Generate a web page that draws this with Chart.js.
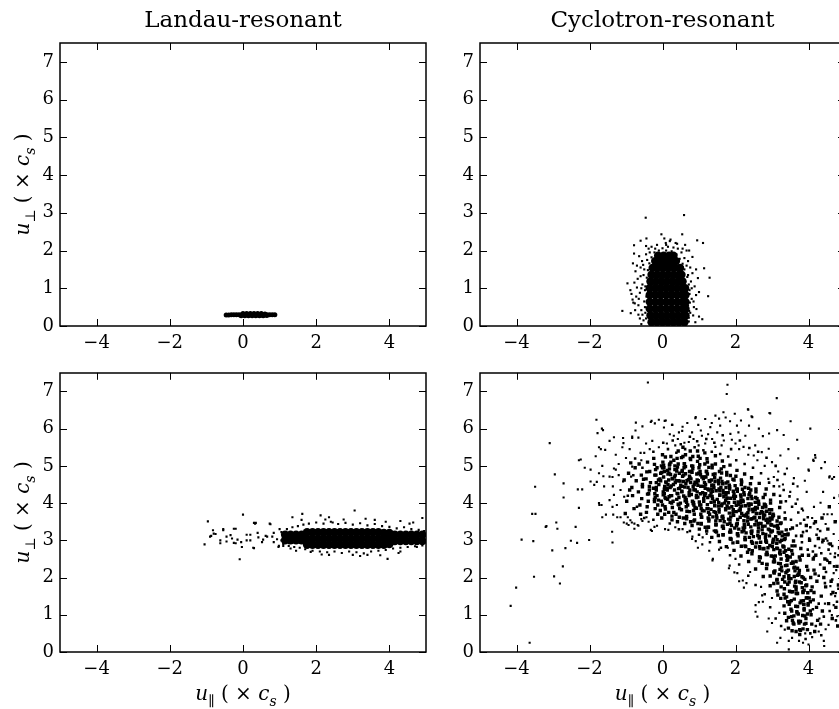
<!DOCTYPE html>
<html>
<head>
<meta charset="utf-8">
<script src="https://cdn.jsdelivr.net/npm/chart.js@4.4.1/dist/chart.umd.min.js"></script>
<style>
html,body{margin:0;padding:0;background:#fff;width:839px;height:709px;overflow:hidden;position:relative;}
canvas{position:absolute;}
</style>
</head>
<body>
<canvas id="c1" width="440" height="356" style="left:0;top:0"></canvas>
<canvas id="c2" width="420" height="356" style="left:440px;top:0"></canvas>
<canvas id="c3" width="440" height="353" style="left:0;top:356px"></canvas>
<canvas id="c4" width="420" height="353" style="left:440px;top:356px"></canvas>
<script>
// ---------------- data ----------------
const titles = ["Landau-resonant", "Cyclotron-resonant"];
const xTicks = [-4, -2, 0, 2, 4];
const yTicks = [0, 1, 2, 3, 4, 5, 6, 7];
const xRange = [-5, 5];
const yRange = [0, 7.5];

// Landau-resonant, top row: very narrow cloud near u_perp = 0.3
const landauTopCore = [[-0.46,0.29],[-0.39,0.29],[-0.32,0.3],[-0.25,0.3],[-0.18,0.3],[-0.11,0.3],[-0.04,0.3],[0.03,0.3],[0.1,0.3],[0.17,0.3],[0.24,0.3],[0.31,0.3],[0.38,0.3],[0.45,0.3],[0.52,0.3],[0.59,0.3],[0.66,0.3],[0.73,0.3],[0.8,0.3],[0.87,0.3],[-0.05,0.27],[0.05,0.27],[0.15,0.27],[0.25,0.27],[0.35,0.27],[0.45,0.27],[0.55,0.27],[0.65,0.28],[0.0,0.33],[0.1,0.33],[0.2,0.33],[0.3,0.33],[0.4,0.33],[0.5,0.33],[0.6,0.32]];

// Cyclotron-resonant, top row: dense core
const cycTopCore = [
[-0.3,0.1],[-0.15,0.1],[0.0,0.1],[0.15,0.1],[0.3,0.1],[0.45,0.1],[0.6,0.1],
[-0.33,0.28],[-0.18,0.28],[-0.03,0.28],[0.12,0.28],[0.27,0.28],[0.42,0.28],[0.57,0.28],[0.63,0.28],
[-0.35,0.46],[-0.2,0.46],[-0.05,0.46],[0.1,0.46],[0.25,0.46],[0.4,0.46],[0.55,0.46],[0.63,0.46],
[-0.35,0.64],[-0.2,0.64],[-0.05,0.64],[0.1,0.64],[0.25,0.64],[0.4,0.64],[0.55,0.64],[0.63,0.64],
[-0.35,0.82],[-0.2,0.82],[-0.05,0.82],[0.1,0.82],[0.25,0.82],[0.4,0.82],[0.55,0.82],[0.63,0.82],
[-0.35,1.0],[-0.2,1.0],[-0.05,1.0],[0.1,1.0],[0.25,1.0],[0.4,1.0],[0.55,1.0],[0.62,1.0],
[-0.33,1.18],[-0.18,1.18],[-0.03,1.18],[0.12,1.18],[0.27,1.18],[0.42,1.18],[0.55,1.18],
[-0.3,1.36],[-0.15,1.36],[0.0,1.36],[0.15,1.36],[0.3,1.36],[0.45,1.36],[0.52,1.36],
[-0.27,1.54],[-0.12,1.54],[0.03,1.54],[0.18,1.54],[0.33,1.54],[0.48,1.54],
[-0.2,1.72],[-0.05,1.72],[0.1,1.72],[0.25,1.72],[0.37,1.72],
[-0.12,1.86],[0.03,1.86],[0.18,1.86],[0.3,1.86]];
const cycTopScatter = [
[-0.46,2.87],[0.59,2.94],[-0.03,2.43],[0.54,2.43],[-0.44,2.32],[0.95,2.27],[1.11,2.2],[-0.78,2.14],[-0.6,2.26],[0.22,2.29],[0.09,2.2],[0.36,2.2],[0.73,2.0],[0.82,1.83],[1.14,1.53],[1.29,1.28],[1.25,0.79],[1.09,0.18],[-1.1,0.4],[-0.87,0.34],[-0.96,1.13],[-0.78,1.92],[-0.81,1.66],[-0.7,1.6],[-0.74,1.45],[-0.88,0.95],[-0.82,0.7],[-0.76,0.6],[-0.66,0.3],[0.92,1.5],[0.97,1.27],[1.0,0.9],[0.93,0.45],[1.0,0.25],[0.9,0.1],
[-0.52,0.15],[-0.58,0.42],[-0.5,0.65],[-0.62,0.88],[-0.55,1.1],[-0.6,1.32],[-0.5,1.5],[-0.56,1.72],[-0.45,1.9],[-0.38,2.05],[-0.66,0.55],[-0.7,1.02],[-0.68,1.25],[-0.72,0.78],[-0.48,0.95],[-0.53,1.62],[-0.64,1.85],[-0.45,2.12],[-0.3,2.1],[-0.2,2.05],[-0.58,0.05],[-0.47,0.35],[-0.75,0.42],[-0.8,0.62],[-0.77,1.15],[-0.85,0.85],
[0.72,0.12],[0.76,0.35],[0.7,0.55],[0.8,0.72],[0.74,0.95],[0.78,1.18],[0.7,1.35],[0.66,1.6],[0.6,1.8],[0.52,1.95],[0.42,2.05],[0.3,2.08],[0.15,2.1],[0.0,2.06],[0.86,0.5],[0.84,0.28],[0.88,1.05],[0.82,1.4],[0.76,1.55],[0.66,2.0],[0.62,2.15],[0.2,2.25],[0.05,2.32],[0.4,2.18],[0.92,0.82],
[-0.45,0.2],[-0.48,0.5],[-0.44,0.78],[-0.47,1.05],[-0.43,1.28],[-0.4,1.48],[-0.36,1.66],[-0.3,1.82],[-0.22,1.95],[-0.1,2.0],[0.1,2.0],[0.25,1.98],[0.38,1.9],[0.47,1.78],[0.55,1.65],[0.6,1.5],[0.68,1.3],[0.72,1.1],[0.74,0.85],[0.75,0.62],[0.73,0.4],[0.72,0.22],[-0.62,0.2],[-0.65,0.72],[-0.58,1.0],[-0.52,1.35],[-0.42,1.75],[-0.35,1.95],[0.85,0.65],[0.8,1.0],[0.7,1.72],[0.55,2.05],[-0.15,2.15],[0.1,2.15],[-0.55,0.3],[-0.6,1.55]];

// Landau-resonant, bottom row: dense band near u_perp = 3
const landauBotCore = [
[1.15,3.0],[1.3,3.0],[1.45,3.0],[1.6,3.0],[1.15,3.15],[1.3,3.15],[1.45,3.15],[1.6,3.15],
[1.75,2.88],[1.9,2.88],[2.05,2.88],[2.2,2.88],[2.35,2.88],[2.5,2.88],[2.65,2.88],[2.8,2.88],[2.95,2.88],[3.1,2.88],[3.25,2.88],[3.4,2.88],[3.55,2.88],[3.7,2.88],[3.85,2.88],[4.0,2.9],
[1.75,3.05],[1.9,3.05],[2.05,3.05],[2.2,3.05],[2.35,3.05],[2.5,3.05],[2.65,3.05],[2.8,3.05],[2.95,3.05],[3.1,3.05],[3.25,3.05],[3.4,3.05],[3.55,3.05],[3.7,3.05],[3.85,3.05],[4.0,3.05],
[1.75,3.22],[1.9,3.22],[2.05,3.22],[2.2,3.22],[2.35,3.22],[2.5,3.22],[2.65,3.22],[2.8,3.22],[2.95,3.22],[3.1,3.22],[3.25,3.22],[3.4,3.22],[3.55,3.22],[3.7,3.22],[3.85,3.2],[4.0,3.2],
[4.15,2.98],[4.3,2.98],[4.45,2.98],[4.6,2.98],[4.75,2.98],[4.9,2.98],[4.15,3.15],[4.3,3.15],[4.45,3.15],[4.6,3.15],[4.75,3.15],[4.9,3.15]];
const landauBotScatter = [
[-0.96,3.51],[-1.05,2.89],[-0.87,3.12],[-0.8,3.18],[-0.62,2.92],[-0.54,3.3],[-0.34,3.14],[-0.2,3.31],[-0.25,2.93],[-0.09,2.49],[0.0,3.69],[0.3,3.47],[0.35,3.47],[0.3,2.79],[0.4,3.2],[0.73,3.45],[0.84,2.95],[0.98,2.85],[0.1,3.0],[0.2,3.15],[-0.15,3.02],[-0.45,2.97],[-0.05,2.95],[0.55,3.02],[0.62,3.12],[0.8,3.1],[1.05,3.0],[1.1,2.85],[1.0,3.3],
[-0.82,3.27],[-0.75,3.17],[-0.54,3.27],[-0.45,3.1],[-0.25,3.31],[-0.3,3.05],[-0.2,2.92],[0.1,3.15],[0.2,3.0],[0.33,3.45],[0.42,3.08],[0.52,2.95],[0.66,3.1],[0.75,3.43],[0.84,3.2],[0.93,3.03],[0.97,2.82],[0.28,2.8],[-0.03,2.82],[-0.62,3.0],[-0.9,3.1],
[1.35,3.62],[1.62,3.71],[2.12,3.67],[2.35,3.62],[3.05,3.8],[2.45,3.48],[2.35,2.61],[3.0,2.61],[3.95,2.5],[3.4,2.61],[1.85,2.69],[4.3,2.7],[4.75,2.82],[1.3,2.78],[3.6,3.55],[4.3,3.52],[4.65,3.48],[4.9,3.6],
[1.05,3.22],[1.1,2.9],[1.2,3.3],[1.25,2.85],[1.35,3.35],[1.4,2.82],[1.5,3.38],[1.55,2.8],[1.65,3.42],[1.7,2.76],[1.8,3.45],[1.9,2.72],[2.0,3.48],[2.1,2.7],[2.2,3.45],[2.3,2.68],[2.4,3.5],[2.5,2.7],[2.6,3.44],[2.7,2.66],[2.8,3.47],[2.9,2.7],[3.0,3.42],[3.1,2.68],[3.2,3.46],[3.3,2.65],[3.4,3.4],[3.5,2.7],[3.6,3.44],[3.7,2.72],[3.8,3.38],[3.9,2.74],[4.0,3.36],[4.1,2.78],[4.2,3.32],[4.3,2.8],[4.4,3.35],[4.5,2.82],[4.6,3.3],[4.7,2.84],[4.8,3.28],[4.9,2.86],[4.95,3.25],[1.6,3.55],[2.25,3.56],[2.75,3.56],[3.35,3.58],[3.9,3.5],[4.55,3.45],[1.45,2.72],[2.15,2.62],[3.2,2.58],[3.75,2.6],[4.25,2.66]];

// Cyclotron-resonant, bottom row: broad arc, points read column by column
const cycBotBand = [
[-1.05,4.62],[-0.98,4.05],[-0.93,4.8],[-1.02,3.72],[-0.9,4.35],
[-0.84,4.42],[-0.78,3.85],[-0.75,4.95],[-0.82,4.2],[-0.72,4.6],[-0.87,5.08],
[-0.66,4.3],[-0.58,4.75],[-0.62,3.95],[-0.55,4.5],[-0.64,5.05],[-0.57,4.12],[-0.6,3.7],
[-0.45,4.65],[-0.38,4.25],[-0.42,3.9],[-0.35,4.85],[-0.41,5.1],[-0.36,4.45],[-0.44,3.75],[-0.39,4.05],
[-0.25,4.4],[-0.18,4.75],[-0.22,4.1],[-0.15,4.95],[-0.2,3.85],[-0.24,5.2],[-0.17,4.55],[-0.21,4.25],[-0.13,3.7],[-0.19,4.9],
[-0.05,4.6],[0.02,4.3],[0.05,4.85],[-0.03,4.05],[0.01,5.1],[0.06,4.45],[-0.06,3.8],[0.03,4.7],[0.0,5.3],[0.07,4.15],[-0.02,3.6],[0.04,4.95],
[0.15,4.5],[0.22,4.2],[0.18,4.8],[0.25,4.0],[0.2,5.05],[0.13,4.35],[0.27,4.65],[0.17,3.75],[0.23,5.25],[0.19,4.92],[0.26,3.55],[0.14,4.1],[0.21,4.42],
[0.35,4.55],[0.42,4.25],[0.38,4.9],[0.45,3.95],[0.4,5.2],[0.33,4.7],[0.47,4.4],[0.37,3.7],[0.43,5.4],[0.39,4.1],[0.46,4.8],[0.34,5.0],[0.41,3.5],[0.44,4.6],
[0.55,4.45],[0.62,4.15],[0.58,4.75],[0.65,3.9],[0.6,5.05],[0.53,4.3],[0.67,4.6],[0.57,3.6],[0.63,5.3],[0.59,4.95],[0.66,4.02],[0.54,4.85],[0.61,3.45],[0.64,4.52],[0.56,5.5],
[0.75,4.35],[0.82,4.05],[0.78,4.65],[0.85,3.8],[0.8,5.0],[0.73,4.2],[0.87,4.5],[0.77,3.5],[0.83,5.25],[0.79,4.85],[0.86,3.95],[0.74,4.72],[0.81,3.4],[0.84,4.45],[0.76,5.4],
[0.95,4.3],[1.02,3.95],[0.98,4.6],[1.05,3.7],[1.0,4.95],[0.93,4.15],[1.07,4.45],[0.97,3.45],[1.03,5.2],[0.99,4.8],[1.06,3.85],[0.94,4.55],[1.01,3.3],[1.04,4.25],[0.96,5.4],[1.08,4.7],
[1.15,4.2],[1.22,3.85],[1.18,4.5],[1.25,3.6],[1.2,4.85],[1.13,4.05],[1.27,4.35],[1.17,3.35],[1.23,5.1],[1.19,4.7],[1.26,3.75],[1.14,4.45],[1.21,3.25],[1.24,4.15],[1.16,5.35],[1.28,4.6],
[1.37,4.12],[1.41,3.77],[1.34,4.38],[1.46,3.52],[1.39,4.77],[1.43,3.93],[1.33,4.27],[1.48,3.22],[1.36,5.02],[1.44,4.58],[1.38,3.63],[1.47,4.33],[1.35,3.08],[1.42,4.03],[1.45,5.27],[1.4,4.48],
[1.54,4.02],[1.63,3.63],[1.57,4.33],[1.66,3.38],[1.59,4.67],[1.55,3.83],[1.68,4.17],[1.53,3.13],[1.61,4.92],[1.65,4.52],[1.58,3.53],[1.67,4.27],[1.56,2.97],[1.62,3.93],[1.64,5.13],[1.6,4.42],
[1.77,3.92],[1.81,3.57],[1.74,4.22],[1.86,3.28],[1.79,4.57],[1.83,3.73],[1.73,4.07],[1.88,3.03],[1.76,4.82],[1.84,4.38],[1.78,3.43],[1.87,4.13],[1.75,2.83],[1.82,3.87],[1.85,5.02],[1.8,4.28],
[1.94,3.82],[2.03,3.43],[1.97,4.12],[2.06,3.18],[1.99,4.47],[1.95,3.67],[2.08,3.97],[1.93,2.93],[2.01,4.72],[2.05,4.32],[1.98,3.33],[2.07,4.03],[1.96,2.73],[2.02,3.77],[2.04,4.88],[2.0,4.18],
[2.17,3.72],[2.21,3.33],[2.14,4.02],[2.26,3.08],[2.19,4.37],[2.23,3.53],[2.13,3.87],[2.28,2.83],[2.16,4.62],[2.24,4.22],[2.18,3.23],[2.27,3.93],[2.15,2.58],[2.22,3.67],[2.25,4.78],[2.2,4.08],
[2.34,3.62],[2.43,3.23],[2.37,3.92],[2.46,2.93],[2.39,4.27],[2.35,3.43],[2.48,3.77],[2.33,2.68],[2.41,4.52],[2.45,4.12],[2.38,3.08],[2.47,3.83],[2.36,2.43],[2.42,3.57],[2.44,4.68],[2.4,3.97],
[2.57,3.52],[2.61,3.13],[2.54,3.82],[2.66,2.83],[2.59,4.12],[2.63,3.33],[2.53,3.62],[2.68,2.53],[2.56,4.38],[2.64,3.97],[2.58,2.93],[2.67,3.72],[2.55,2.23],[2.62,3.42],[2.65,4.53],[2.6,3.87],
[2.74,3.37],[2.83,2.98],[2.77,3.67],[2.86,2.68],[2.79,3.97],[2.75,3.18],[2.88,3.47],[2.73,2.38],[2.81,4.23],[2.85,3.78],[2.78,2.78],[2.87,3.57],[2.76,2.03],[2.82,3.08],[2.84,4.38],[2.8,3.68],
[2.97,3.22],[3.01,2.83],[2.94,3.52],[3.06,2.48],[2.99,3.82],[3.03,2.98],[2.93,3.28],[3.08,2.18],[2.96,4.08],[3.04,3.67],[2.98,2.58],[3.07,3.38],[2.95,1.78],[3.02,2.93],[3.05,4.23],[3.0,3.57],
[3.14,3.02],[3.23,2.63],[3.17,3.32],[3.26,2.28],[3.19,3.62],[3.15,2.78],[3.28,3.12],[3.13,1.93],[3.21,3.88],[3.25,3.47],[3.18,2.38],[3.27,3.22],[3.16,1.53],[3.22,2.73],[3.24,4.03],[3.2,2.08],
[3.37,2.72],[3.41,2.33],[3.34,3.02],[3.46,1.98],[3.39,3.28],[3.43,2.48],[3.33,2.82],[3.48,1.63],[3.36,3.58],[3.44,3.17],[3.38,2.13],[3.47,1.28],[3.35,1.88],[3.42,2.57],[3.45,0.93],[3.4,1.48],
[3.57,2.42],[3.61,2.03],[3.54,2.72],[3.66,1.68],[3.59,2.98],[3.63,2.18],[3.53,1.38],[3.68,1.08],[3.56,3.33],[3.64,1.87],[3.58,0.78],[3.67,1.57],[3.55,0.57],[3.62,2.28],[3.65,1.23],[3.6,0.97],
[3.74,2.12],[3.83,1.73],[3.77,2.47],[3.86,1.38],[3.79,2.78],[3.75,1.88],[3.88,1.13],[3.73,0.83],[3.81,3.12],[3.85,1.62],[3.78,0.58],[3.87,1.28],[3.76,0.47],[3.82,2.02],[3.84,0.98],
[3.95,1.8],[4.02,1.45],[3.98,2.2],[4.05,1.1],[4.0,2.6],[3.93,0.9],[4.07,1.65],[3.97,0.6],[4.03,3.0],[3.99,1.3],[4.06,2.0],[3.94,3.4],
[4.15,1.6],[4.22,1.2],[4.18,2.1],[4.25,0.85],[4.2,2.6],[4.13,1.4],[4.27,3.05],[4.17,0.55],[4.23,1.9],[4.19,3.5],
[4.35,1.5],[4.42,2.0],[4.38,1.1],[4.45,2.5],[4.4,3.0],[4.33,0.75],[4.47,1.75],[4.37,3.6],[4.43,2.25],
[4.55,1.3],[4.62,1.9],[4.58,2.4],[4.65,0.9],[4.6,2.9],[4.53,3.3],[4.67,1.6],[4.57,3.9],
[4.75,1.2],[4.82,1.8],[4.78,2.3],[4.85,2.8],[4.8,0.7],[4.73,3.5],[4.87,4.2],
[-0.1,4.5],[-0.15,4.2],[-0.05,4.8],[-0.13,3.95],[-0.07,4.65],[-0.17,4.35],[-0.03,5.0],[-0.11,4.08],
[0.1,4.55],[0.05,4.25],[0.15,4.78],[0.07,3.9],[0.13,4.4],[0.03,5.02],[0.17,4.62],[0.09,4.12],[0.14,4.88],[0.06,3.7],
[0.3,4.5],[0.25,4.2],[0.35,4.75],[0.27,3.88],[0.33,4.35],[0.23,5.1],[0.37,4.6],[0.29,4.05],[0.34,4.9],[0.26,3.65],
[0.5,4.48],[0.45,4.15],[0.55,4.72],[0.47,3.85],[0.53,4.32],[0.43,5.05],[0.57,4.58],[0.49,4.0],[0.54,4.88],[0.46,3.62],[0.56,5.25],
[0.7,4.42],[0.65,4.1],[0.75,4.68],[0.67,3.78],[0.73,4.28],[0.63,4.98],[0.77,4.55],[0.69,3.95],[0.74,4.85],[0.66,3.58],[0.76,5.2],
[0.9,4.35],[0.85,4.02],[0.95,4.62],[0.87,3.7],[0.93,4.2],[0.83,4.92],[0.97,4.48],[0.89,3.88],[0.94,4.78],[0.86,3.52],[0.96,5.12],
[1.1,4.28],[1.05,3.95],[1.15,4.55],[1.07,3.62],[1.13,4.12],[1.03,4.85],[1.17,4.4],[1.09,3.8],[1.14,4.7],[1.06,3.45],[1.16,5.05],
[1.3,4.2],[1.25,3.85],[1.35,4.48],[1.27,3.52],[1.33,4.02],[1.23,4.78],[1.37,4.32],[1.29,3.7],[1.34,4.62],[1.26,3.35],[1.36,4.95],
[1.5,4.1],[1.45,3.75],[1.55,4.38],[1.47,3.42],[1.53,3.92],[1.43,4.68],[1.57,4.22],[1.49,3.6],[1.54,4.52],[1.46,3.25],[1.56,4.85],
[1.7,4.0],[1.65,3.65],[1.75,4.28],[1.67,3.32],[1.73,3.82],[1.63,4.58],[1.77,4.12],[1.69,3.5],[1.74,4.42],[1.66,3.15],[1.76,4.75],
[1.9,3.9],[1.85,3.55],[1.95,4.18],[1.87,3.22],[1.93,3.72],[1.83,4.48],[1.97,4.02],[1.89,3.4],[1.94,4.32],[1.86,3.05],[1.96,4.62],
[2.1,3.8],[2.05,3.45],[2.15,4.08],[2.07,3.12],[2.13,3.62],[2.03,4.38],[2.17,3.92],[2.09,3.3],[2.14,4.22],[2.06,2.95],[2.16,4.5],
[2.3,3.7],[2.25,3.35],[2.35,3.98],[2.27,3.02],[2.33,3.52],[2.23,4.28],[2.37,3.82],[2.29,3.2],[2.34,4.12],[2.26,2.85],[2.36,4.4],
[2.5,3.6],[2.45,3.25],[2.55,3.88],[2.47,2.92],[2.53,3.42],[2.43,4.18],[2.57,3.72],[2.49,3.1],[2.54,4.02],[2.46,2.72],[2.56,4.3],
[2.7,3.45],[2.65,3.1],[2.75,3.75],[2.67,2.78],[2.73,3.28],[2.63,4.05],[2.77,3.58],[2.69,2.95],[2.74,3.88],[2.66,2.55],[2.76,4.15],
[2.9,3.3],[2.85,2.95],[2.95,3.6],[2.87,2.62],[2.93,3.12],[2.83,3.9],[2.97,3.42],[2.89,2.8],[2.94,3.72],[2.86,2.35],[2.96,4.0],
[3.1,3.1],[3.05,2.75],[3.15,3.4],[3.07,2.42],[3.13,2.92],[3.03,3.7],[3.17,3.22],[3.09,2.58],[3.14,3.52],[3.06,2.12],[3.16,1.85],
[3.3,2.85],[3.25,2.5],[3.35,3.15],[3.27,2.18],[3.33,2.68],[3.23,3.45],[3.37,2.32],[3.29,1.95],[3.34,1.7],[3.26,3.0],[3.36,1.45],
[3.5,2.55],[3.45,2.2],[3.55,2.85],[3.47,1.88],[3.53,2.38],[3.43,3.15],[3.57,1.62],[3.49,1.35],[3.54,1.1],[3.46,2.05],[3.56,0.85],
[3.7,2.25],[3.65,1.9],[3.75,2.55],[3.67,1.58],[3.73,2.08],[3.63,2.85],[3.77,1.32],[3.69,1.05],[3.74,0.78],[3.66,1.75],[3.76,0.6],
[3.9,1.95],[3.85,1.6],[3.95,2.3],[3.87,1.28],[3.93,1.78],[3.83,2.6],[3.97,1.02],[3.89,0.75],[3.94,1.45],
[4.1,1.75],[4.05,1.35],[4.15,2.2],[4.07,1.0],[4.13,2.5],[4.09,0.75]];

// Cyclotron-resonant, bottom row: densest part, points read row by row
const cycBotCore = [
[0.08,5.24],[0.31,5.15],[0.52,5.22],[0.77,5.17],[0.98,5.26],[1.22,5.19],
[-0.22,5.04],[0.0,4.95],[0.19,5.02],[0.41,4.97],[0.6,5.06],[0.83,4.99],[1.02,5.03],[1.27,4.96],[1.45,5.05],[1.68,4.98],
[-0.43,4.84],[-0.21,4.75],[-0.02,4.82],[0.22,4.77],[0.39,4.86],[0.63,4.79],[0.81,4.83],[1.04,4.76],[1.21,4.85],[1.44,4.78],[1.62,4.81],[1.86,4.74],
[-0.52,4.64],[-0.33,4.55],[-0.11,4.62],[0.09,4.57],[0.27,4.66],[0.48,4.59],[0.71,4.63],[0.89,4.56],[1.12,4.65],[1.3,4.58],[1.53,4.61],[1.74,4.54],[1.93,4.64],[2.17,4.57],
[-0.55,4.44],[-0.36,4.35],[-0.17,4.42],[0.05,4.37],[0.24,4.46],[0.44,4.39],[0.61,4.43],[0.86,4.36],[1.05,4.45],[1.24,4.38],[1.41,4.41],[1.66,4.34],[1.84,4.44],[2.05,4.37],[2.26,4.42],[2.42,4.35],
[-0.41,4.24],[-0.2,4.15],[0.02,4.22],[0.18,4.17],[0.4,4.26],[0.58,4.19],[0.79,4.23],[0.97,4.16],[1.18,4.25],[1.36,4.18],[1.57,4.21],[1.77,4.14],[1.96,4.24],[2.15,4.17],[2.37,4.22],[2.55,4.15],
[-0.22,4.04],[0.0,3.95],[0.21,4.02],[0.43,3.97],[0.62,4.06],[0.84,3.99],[1.01,4.03],[1.23,3.96],[1.42,4.05],[1.63,3.98],[1.81,4.01],[2.02,3.94],[2.21,4.04],[2.43,3.97],[2.61,4.02],[2.82,3.95],
[0.08,3.84],[0.31,3.75],[0.52,3.82],[0.74,3.77],[0.93,3.86],[1.14,3.79],[1.33,3.83],[1.55,3.76],[1.73,3.85],[1.94,3.78],[2.13,3.81],[2.34,3.74],[2.52,3.84],[2.71,3.77],[2.93,3.82],
[0.66,3.64],[0.88,3.55],[1.07,3.62],[1.27,3.57],[1.48,3.66],[1.66,3.59],[1.87,3.63],[2.06,3.56],[2.27,3.65],[2.45,3.58],[2.66,3.61],[2.84,3.54],[3.02,3.64],
[1.06,3.44],[1.25,3.35],[1.46,3.42],[1.64,3.37],[1.85,3.46],[2.03,3.39],[2.24,3.43],[2.42,3.36],[2.63,3.45],[2.81,3.38],[2.99,3.41],[3.15,3.34],
[1.45,3.24],[1.66,3.15],[1.84,3.22],[2.05,3.17],[2.23,3.26],[2.44,3.19],[2.62,3.23],[2.83,3.16],[3.01,3.25],[3.2,3.18],
[1.86,3.04],[2.05,2.95],[2.26,3.02],[2.44,2.97],[2.65,3.06],[2.83,2.99],[3.04,3.03],[3.22,2.96],[3.36,3.05],
[2.16,2.84],[2.37,2.75],[2.55,2.82],[2.76,2.77],[2.94,2.86],[3.13,2.79],[3.31,2.83],[3.46,2.76],
[2.45,2.64],[2.66,2.55],[2.84,2.62],[3.03,2.57],[3.21,2.66],[3.4,2.59],[3.56,2.63],
[2.65,2.44],[2.86,2.35],[3.04,2.42],[3.23,2.37],[3.41,2.46],[3.58,2.39],[3.66,2.43],
[2.85,2.24],[3.05,2.15],[3.22,2.22],[3.41,2.17],[3.6,2.26],[3.75,2.19],
[2.95,2.04],[3.14,1.95],[3.33,2.02],[3.52,1.97],[3.7,2.06],[3.86,1.99],
[3.05,1.84],[3.25,1.75],[3.43,1.82],[3.62,1.77],[3.8,1.86],[3.93,1.79],
[3.14,1.64],[3.33,1.55],[3.52,1.62],[3.7,1.57],[3.88,1.66],[3.98,1.59],
[3.24,1.44],[3.43,1.35],[3.61,1.42],[3.8,1.37],[3.96,1.46],
[3.33,1.24],[3.52,1.15],[3.7,1.22],[3.88,1.17],[3.99,1.26],
[3.35,1.04],[3.54,0.95],[3.72,1.02],[3.9,0.97],
[3.4,0.84],[3.6,0.75],[3.78,0.82],[3.93,0.77],
[3.45,0.64],[3.66,0.55],[3.85,0.62]];

// Cyclotron-resonant, bottom row: medium-density fringe of the arc
const cycBotMid = [
[3.05,4.45],[3.22,4.2],[3.38,4.05],[3.55,3.9],[3.72,3.75],[3.88,3.55],[4.05,3.35],[4.22,3.15],[4.38,2.95],[4.55,2.75],[4.72,2.55],
[3.15,4.62],[3.32,4.35],[3.48,4.18],[3.65,3.98],[3.82,3.85],[3.98,3.62],[4.15,3.45],[4.32,3.25],[4.48,3.05],[4.65,2.85],[4.82,2.6],
[3.35,3.75],[3.52,3.55],[3.68,3.4],[3.85,3.22],[4.02,3.05],[4.18,2.85],[4.35,2.65],[4.52,2.45],[4.7,2.3],
[3.5,3.3],[3.66,3.12],[3.82,2.95],[3.98,2.75],[4.15,2.55],[4.32,2.35],[4.48,2.15],[4.65,1.95],[4.82,1.7],
[3.78,3.45],[3.95,3.25],[4.12,2.7],[4.28,2.05],[4.45,1.85],[4.62,1.55],[4.78,1.35],[4.12,1.15],[4.28,1.3],[4.42,0.95],[4.58,1.1],[4.75,0.85],[4.2,0.7],[4.05,0.5],[3.92,0.35],[4.35,0.45],
[0.15,5.45],[0.38,5.35],[0.62,5.45],[0.88,5.5],[1.12,5.42],[1.35,5.38],[1.58,5.32],[1.8,5.25],[2.02,5.15],[2.25,5.05],[2.48,4.95],[2.7,4.8],[2.92,4.55],
[-0.25,5.38],[0.02,5.62],[0.28,5.68],[0.5,5.58],[0.75,5.78],[0.95,5.66],[1.2,5.72],[1.42,5.62],[1.65,5.82],[1.88,5.45],[2.12,5.68],[2.38,5.48],[2.62,5.38],[2.85,5.22],[3.1,5.0],[3.35,4.78],[3.58,4.52],
[-0.75,5.2],[-0.55,4.95],[-0.8,4.75],[-0.95,4.2],[-0.7,3.9],[-0.5,3.6],[-0.25,3.55],[0.2,3.45],[0.45,3.3],[0.75,3.25],[1.0,3.15],[1.3,2.95],[1.6,2.8],[1.85,2.6],[2.1,2.35],[2.35,2.05],[2.55,1.8],[2.8,1.55],[2.95,1.2],[3.1,0.9],[3.25,0.7]];

// Cyclotron-resonant, bottom row: sparse surrounding points
const cycBotSparse = [
[-0.4,7.24],[1.78,7.18],[1.76,6.93],[3.13,6.82],[-3.09,5.61],[-1.81,6.24],[-1.63,5.96],[-1.69,5.45],[-2.24,5.17],[-2.13,4.95],[-1.97,4.9],[-2.95,4.77],[-2.71,4.53],[-2.32,4.37],[-2.2,4.37],[-2.71,4.15],[-3.49,4.44],[-3.57,3.71],[-3.48,3.71],[-3.18,3.38],[-2.88,3.31],[-2.38,3.36],[-3.86,3.02],[-3.54,2.98],[-3.02,2.73],[-2.66,2.79],[-2.51,2.99],[-2.34,2.93],[-2.01,3.01],[-1.38,3.23],[-1.37,2.94],[-2.73,2.3],[-3.52,2.02],[-2.97,2.03],[-2.81,1.84],[-4.01,1.73],[-4.16,1.24],[-3.64,0.25],[-1.67,3.95],[-1.55,3.69],[-1.35,3.69],[-1.37,3.9],[-1.73,3.95],[-1.8,4.57],[-1.62,4.72],[-1.37,4.7],[-1.28,4.9],[-1.1,5.5],[-1.08,5.75],[-0.83,5.75],[-0.74,5.95],[-0.55,6.06],[-0.3,6.21],[-0.21,6.14],[-0.1,6.24],[0.06,6.21],[0.26,6.1],[0.45,5.9],[0.68,6.15],[0.9,6.28],[1.17,6.26],[1.45,6.35],[1.67,6.44],[1.98,6.4],[2.35,6.51],[2.44,6.33],[2.93,6.42],[3.51,6.2],[4.05,6.0],[3.69,5.7],[4.19,5.22],[4.14,5.13],[4.01,4.87],[4.57,4.69],[4.65,4.65],[4.33,4.01],[4.7,4.14],[4.52,3.7],[4.75,3.52],[4.52,2.99],[4.6,2.64],[4.76,2.2],[4.75,1.58],[4.79,0.96],[4.47,0.61],[4.43,0.16],[4.1,0.4],[3.14,0.25],[3.46,0.07],[3.74,0.3],[2.87,0.55],[2.55,1.08],[2.6,0.95],[2.75,1.35],[2.2,1.92],[1.97,2.14],[1.84,2.32],[1.38,2.5],[1.79,2.8],[0.97,2.8],[0.81,3.04],[1.21,3.17],[1.4,3.26],[-0.29,3.25],[-0.15,3.39],[0.07,3.3],[0.16,3.28],[-0.66,3.39],[-0.84,3.48],[-0.98,3.45],
[2.34,6.52],[2.95,6.41],[2.46,6.31],[1.55,6.27],[1.73,6.3],[0.91,6.31],[0.09,6.22],[0.27,6.1],[0.98,6.1],[1.31,6.04],[1.58,6.08],[2.04,6.08],[2.37,6.08],[2.64,6.0],[2.92,5.87],[3.14,5.96],[3.32,5.83],[4.18,5.29],[4.13,5.16],[4.58,4.72],[4.0,4.9],[3.9,4.6],[3.6,4.67],[3.41,4.93],[3.23,5.28],[2.91,5.46],[2.72,5.37],[2.54,5.55],[2.27,5.81],[2.08,5.9],[1.86,5.86],[1.68,5.68],[1.36,5.72],[1.08,5.81],[0.81,5.9],[0.54,5.94],[0.31,5.81],[0.04,6.03],[0.35,5.55],[0.72,5.64],[0.99,5.55],[1.17,5.6],[1.45,5.51],[2.0,5.6],[2.22,5.51],[2.5,5.28],[3.0,5.1],[3.17,4.85],[3.72,5.2],[4.35,4.94],[4.45,5.1],[4.7,4.7],
[-1.78,5.88],[-1.66,6.0],[-0.73,6.16],[-0.32,6.18],[-0.83,5.79],[-0.66,5.76],[-0.28,5.67],[-1.33,5.77],[-1.45,5.67],[-1.07,5.61],[-1.74,5.5],[-1.57,5.43],[-2.29,5.15],[-1.83,5.26],[-1.28,5.3],[-1.0,5.21],[-0.5,5.35],[-1.65,5.0],[-1.33,4.93],[-1.2,5.05],[-0.83,4.98],[-0.58,5.15],[-1.97,4.58],[-1.74,4.8],[-1.87,4.49],[-1.45,4.71],[-1.36,4.45],[-1.08,4.58],[-0.86,4.71],[-1.6,4.45],[-2.29,3.87],[-1.74,4.0],[-1.45,4.08],[-1.33,4.22],[-1.05,4.17],
[-1.65,3.62],[-1.24,3.62],[-1.15,3.62],[-1.06,3.48],[-0.88,3.54],[-0.93,3.41],[-0.77,3.45],[-0.68,3.41],[-0.77,3.31],[-0.58,3.57],[-0.44,3.62],[-0.32,3.28],[-0.22,3.36],[-3.2,3.36],[-2.91,3.48],
[0.68,3.22],[0.82,3.1],[0.91,2.98],[1.09,2.89],[1.28,2.72],[1.37,2.46],[1.82,2.25],[2.05,2.12],[2.1,1.9],[2.23,1.73],[2.3,1.85],[2.55,1.26],[2.64,1.34],[2.73,1.52],[2.91,0.9],[3.0,0.78],[3.23,0.38],[3.46,0.3],[4.42,0.3],[3.91,0.5],[4.28,0.55],[4.55,0.73],[4.64,0.99],[4.69,1.26],[4.73,1.5],[4.6,1.77],[4.69,2.12],[4.5,2.48],[4.73,2.65],[4.55,2.91],[4.69,3.17],[4.47,3.44],[4.64,3.7],[4.42,3.7],
[-0.6,5.35],[-0.35,5.45],[-0.1,5.5],[0.12,5.6],[0.42,5.72],[0.6,5.62],[0.85,5.72],[1.05,5.95],[1.25,5.85],[1.5,5.9],[1.62,5.55],[1.9,5.7],[2.1,5.45],[2.35,5.3],[2.6,5.15],[2.8,5.0],[3.05,4.7],[3.3,4.5],[3.5,4.3],[3.7,4.1],[3.85,3.8],[4.1,3.6],[4.25,3.3],[0.2,5.85],[0.55,6.05],[1.35,6.15],[1.85,6.2],[2.15,6.22],[2.75,5.8],[3.45,5.45],[-0.45,5.6],[-0.9,5.45],[-1.2,4.75],[-1.15,4.35],[-1.25,3.95],[-0.95,3.62],[-0.55,3.52],[-0.38,3.5],[0.35,3.35],[0.55,3.3],[1.1,3.08],[1.55,2.75],[2.0,2.5],[2.4,2.15],[2.7,1.75],[3.0,1.45],[3.2,1.05],[3.35,0.6],[3.55,0.38],[3.85,0.25],[4.0,0.2],[4.3,0.9],[4.45,1.3],[4.3,2.8],[4.15,3.9],[4.4,4.3],[3.95,4.3],[3.7,4.45],[3.2,4.45],[2.9,4.65]];

// ---------------- drawing ----------------
const FONT = '"DejaVu Serif", "Liberation Serif", serif';
const toXY = arr => arr.map(p => ({x: p[0], y: p[1]}));
const fmt = v => (v < 0 ? '\u2212' + Math.abs(v) : String(v));

function drawMath(ctx, parts, size) {
  let w = 0;
  const items = parts.map(p => {
    const fs = p.sub ? size * 0.7 : size;
    const f = (p.it ? 'italic ' : '') + fs + 'px ' + FONT;
    ctx.font = f;
    const m = ctx.measureText(p.t).width;
    const it = {t: p.t, f, w: m, dy: p.sub ? size * 0.28 : 0};
    w += m;
    return it;
  });
  let x = -w / 2;
  items.forEach(it => { ctx.font = it.f; ctx.fillText(it.t, x, it.dy); x += it.w; });
}
const perpLabel = [{t:'u', it:true},{t:'\u22A5', sub:true},{t:' ( \u00D7 '},{t:'c', it:true},{t:'s', it:true, sub:true},{t:' )'}];
const parLabel  = [{t:'u', it:true},{t:'\u2225', sub:true},{t:' ( \u00D7 '},{t:'c', it:true},{t:'s', it:true, sub:true},{t:' )'}];

const framePlugin = {
  id: 'frame',
  afterDraw(chart, args, o) {
    const {ctx, chartArea: a, scales} = chart;
    ctx.save();
    ctx.strokeStyle = '#000';
    ctx.fillStyle = '#000';
    ctx.lineWidth = 1;
    ctx.beginPath();
    const L = 7;
    xTicks.forEach(v => {
      const px = Math.round(scales.x.getPixelForValue(v)) + 0.5;
      ctx.moveTo(px, a.bottom); ctx.lineTo(px, a.bottom - L);
      ctx.moveTo(px, a.top); ctx.lineTo(px, a.top + L);
    });
    yTicks.forEach(v => {
      const py = Math.round(scales.y.getPixelForValue(v)) + 0.5;
      ctx.moveTo(a.left, py); ctx.lineTo(a.left + L, py);
      ctx.moveTo(a.right, py); ctx.lineTo(a.right - L, py);
    });
    ctx.stroke();
    ctx.lineWidth = 1.5;
    ctx.strokeRect(Math.round(a.left), Math.round(a.top), Math.round(a.right - a.left), Math.round(a.bottom - a.top));
    ctx.textAlign = 'left';
    ctx.textBaseline = 'alphabetic';
    if (o.title) {
      ctx.font = '23px ' + FONT;
      ctx.textAlign = 'center';
      ctx.fillText(o.title, (a.left + a.right) / 2, o.titleY);
      ctx.textAlign = 'left';
    }
    if (o.ylabel) {
      ctx.save();
      ctx.translate(o.ylabelX, (a.top + a.bottom) / 2);
      ctx.rotate(-Math.PI / 2);
      drawMath(ctx, perpLabel, 20);
      ctx.restore();
    }
    if (o.xlabel) {
      ctx.save();
      ctx.translate((a.left + a.right) / 2, o.xlabelY);
      drawMath(ctx, parLabel, 20);
      ctx.restore();
    }
    ctx.restore();
  }
};

function makeChart(id, datasets, cfg) {
  return new Chart(document.getElementById(id), {
    type: 'scatter',
    data: { datasets },
    plugins: [framePlugin],
    options: {
      responsive: false,
      animation: false,
      devicePixelRatio: 1,
      events: [],
      layout: { padding: { top: cfg.padTop, right: cfg.padRight, left: 0, bottom: 0 } },
      plugins: { legend: { display: false }, tooltip: { enabled: false }, frame: cfg },
      scales: {
        x: {
          type: 'linear', min: xRange[0], max: xRange[1],
          grid: { display: false, drawTicks: false }, border: { display: false },
          afterBuildTicks: s => { s.ticks = xTicks.map(v => ({ value: v })); },
          afterFit: s => { s.height = cfg.xh; },
          ticks: { color: '#000', font: { family: FONT, size: 18 }, padding: cfg.xpad, maxRotation: 0, callback: v => fmt(v) }
        },
        y: {
          type: 'linear', min: yRange[0], max: yRange[1],
          grid: { display: false, drawTicks: false }, border: { display: false },
          afterBuildTicks: s => { s.ticks = yTicks.map(v => ({ value: v })); },
          afterFit: s => { s.width = cfg.yw; },
          ticks: { color: '#000', font: { family: FONT, size: 18 }, padding: 6, callback: v => fmt(v) }
        }
      }
    }
  });
}

const small = { pointStyle: 'rect', pointRadius: 1.5, backgroundColor: '#000', borderWidth: 0 };
const mid = { pointStyle: 'rect', pointRadius: 1.8, backgroundColor: '#000', borderWidth: 0 };
const bandStyle = { pointStyle: 'rect', pointRadius: 2.4, backgroundColor: '#000', borderWidth: 0 };
const coreStyle = r => ({ pointStyle: 'circle', pointRadius: r, backgroundColor: '#000', borderWidth: 0 });

makeChart('c1', [ Object.assign({ data: toXY(landauTopCore) }, coreStyle(2.5)) ],
  { padTop: 43, padRight: 14, yw: 60, xh: 30, xpad: 7, title: titles[0], titleY: 27, ylabel: true, ylabelX: 29 });
makeChart('c2', [ Object.assign({ data: toXY(cycTopCore) }, coreStyle(4.2)), Object.assign({ data: toXY(cycTopScatter) }, small) ],
  { padTop: 43, padRight: 15, yw: 40, xh: 30, xpad: 7, title: titles[1], titleY: 27 });
makeChart('c3', [ Object.assign({ data: toXY(landauBotCore) }, coreStyle(4.2)), Object.assign({ data: toXY(landauBotScatter) }, small) ],
  { padTop: 13, padRight: 14, yw: 60, xh: 57, xpad: 7, ylabel: true, ylabelX: 29, xlabel: true, xlabelY: 344 });
makeChart('c4', [ Object.assign({ data: toXY(cycBotBand) }, bandStyle), Object.assign({ data: toXY(cycBotCore) }, bandStyle), Object.assign({ data: toXY(cycBotMid) }, mid), Object.assign({ data: toXY(cycBotSparse) }, small) ],
  { padTop: 13, padRight: 15, yw: 40, xh: 57, xpad: 7, xlabel: true, xlabelY: 344 });
</script>
</body>
</html>
